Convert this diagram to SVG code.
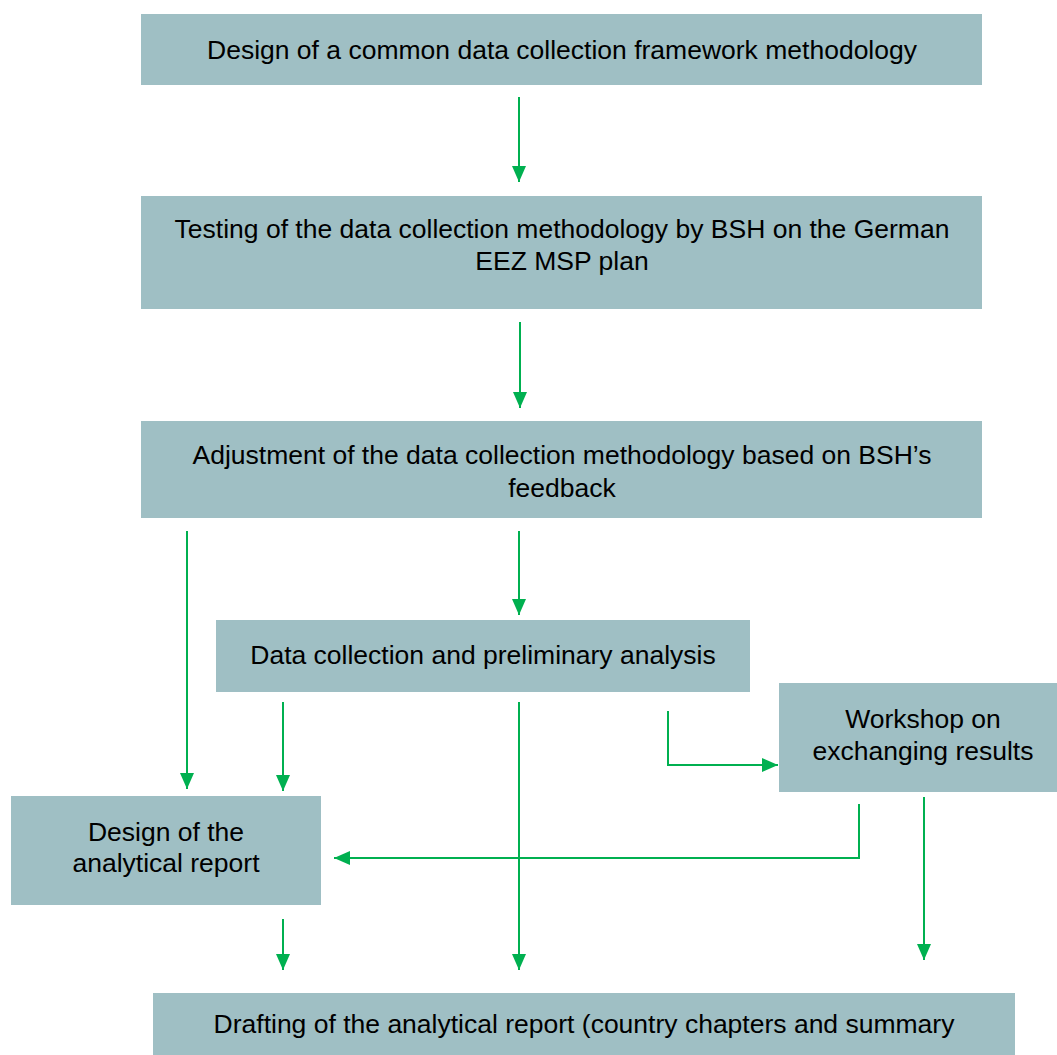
<svg xmlns="http://www.w3.org/2000/svg" width="1057" height="1055" viewBox="0 0 1057 1055">
<style>
.box{fill:#9fbfc4}
.t{font-family:"Liberation Sans",Arial,sans-serif;font-size:26.5px;fill:#000;text-anchor:middle}
.c{stroke:#00b050;stroke-width:2;fill:none}
</style>
<defs>
<marker id="ah" viewBox="0 0 16 14" refX="16" refY="7" markerWidth="16" markerHeight="14" markerUnits="userSpaceOnUse" orient="auto">
<path d="M0,0 L16,7 L0,14 Z" fill="#00b050"/>
</marker>
</defs>
<rect width="1057" height="1055" fill="#fff"/>
<g id="n1"><rect class="box" x="141" y="14" width="841" height="71"/><text class="t" x="562" y="59">Design of a common data collection framework methodology</text></g>
<g id="n2"><rect class="box" x="141" y="196" width="841" height="113"/><text class="t" x="562" y="238">Testing of the data collection methodology by BSH on the German</text><text class="t" x="562" y="270">EEZ MSP plan</text></g>
<g id="n3"><rect class="box" x="141" y="421" width="841" height="97"/><text class="t" x="562" y="464">Adjustment of the data collection methodology based on BSH’s</text><text class="t" x="562" y="497">feedback</text></g>
<g id="n4"><rect class="box" x="216" y="620" width="534" height="72"/><text class="t" x="483" y="664">Data collection and preliminary analysis</text></g>
<g id="n5"><rect class="box" x="779" y="683" width="278" height="109"/><text class="t" x="923" y="728">Workshop on</text><text class="t" x="923" y="760">exchanging results</text></g>
<g id="n6"><rect class="box" x="11" y="796" width="310" height="109"/><text class="t" x="166" y="841">Design of the</text><text class="t" x="166" y="872">analytical report</text></g>
<g id="n7"><rect class="box" x="153" y="993" width="862" height="62"/><text class="t" x="584" y="1033">Drafting of the analytical report (country chapters and summary</text></g>
<g id="connectors">
<path class="c" d="M519,97 V182" marker-end="url(#ah)"/>
<path class="c" d="M520,322 V408" marker-end="url(#ah)"/>
<path class="c" d="M519,531 V615" marker-end="url(#ah)"/>
<path class="c" d="M187,531 V789" marker-end="url(#ah)"/>
<path class="c" d="M283,702 V791" marker-end="url(#ah)"/>
<path class="c" d="M519,702 V970" marker-end="url(#ah)"/>
<path class="c" d="M668,711 V765 H778" marker-end="url(#ah)"/>
<path class="c" d="M859,804 V858 H334" marker-end="url(#ah)"/>
<path class="c" d="M924,797 V960" marker-end="url(#ah)"/>
<path class="c" d="M283,919 V970" marker-end="url(#ah)"/>
</g>
</svg>
